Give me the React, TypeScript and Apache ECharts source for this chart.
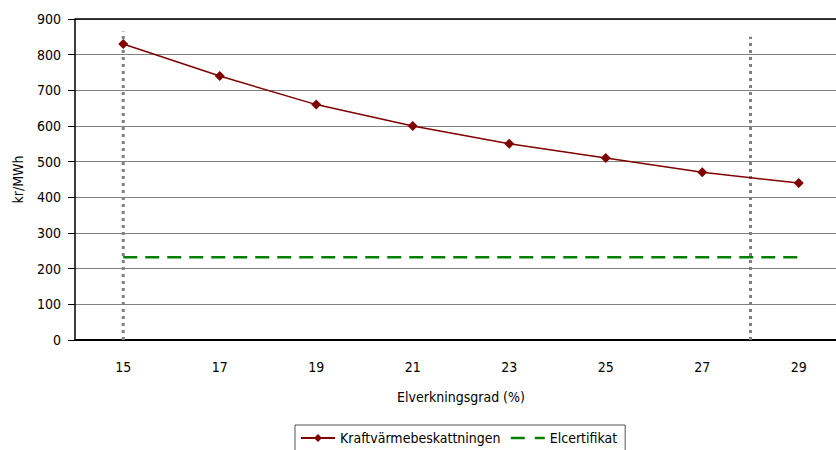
import React, { useEffect, useRef } from "react";
import * as echarts from "echarts";

// Electrical efficiency (%) on the category axis
const categories = ["15", "17", "19", "21", "23", "25", "27", "29"];
// kr/MWh
const kraftvarme = [830, 740, 660, 600, 550, 510, 470, 440];
const elcertifikat = [232, 232, 232, 232, 232, 232, 232, 232];
// Vertical reference markers: x position (efficiency %) and top value (kr/MWh)
const refX = [15, 28];
const refTop = [865, 850];

const FONT = '"DejaVu Sans Condensed", "Liberation Sans Narrow", sans-serif';

export default function App() {
  const ref = useRef<HTMLDivElement>(null);

  useEffect(() => {
    if (!ref.current) return;
    const chart = echarts.init(ref.current, null, { renderer: "svg" });
    const text = { fontFamily: FONT, fontSize: 14, color: "#000" };

    const refSeries = refX.map((x, i) => ({
      name: "ref" + i,
      type: "line",
      xAxisIndex: 1,
      yAxisIndex: 0,
      data: [
        [x, 0],
        [x, refTop[i]],
      ],
      symbol: "none",
      silent: true,
      lineStyle: { color: "#808080", width: 3, type: [3, 4] },
      z: 1,
    }));

    chart.setOption({
      animation: false,
      backgroundColor: "#fff",
      textStyle: { fontFamily: FONT },
      grid: {
        left: 75,
        top: 19,
        width: 772,
        bottom: 110,
        containLabel: false,
        outerBoundsMode: "none",
      },
      legend: {
        data: [
          { name: "Kraftvärmebeskattningen" },
          {
            name: "Elcertifikat",
            itemStyle: { color: "transparent", borderColor: "transparent", borderWidth: 0 },
            lineStyle: { color: "#008000", width: 2.5, type: [14, 10] },
          },
        ],
        left: 295,
        top: 425,
        padding: [6, 8, 12, 5],
        itemGap: 9,
        itemWidth: 34,
        itemHeight: 10,
        borderColor: "#555",
        borderWidth: 1,
        textStyle: { ...text },
      },
      xAxis: [
        {
          type: "category",
          data: categories,
          name: "Elverkningsgrad (%)",
          nameLocation: "middle",
          nameGap: 50,
          nameTextStyle: text,
          axisLine: { lineStyle: { color: "#000", width: 2 } },
          axisTick: { length: 6, lineStyle: { color: "#000" } },
          axisLabel: { ...text, margin: 20 },
          splitLine: { show: false },
        },
        {
          type: "value",
          min: 14,
          max: 30,
          show: false,
        },
      ],
      yAxis: {
        type: "value",
        min: 0,
        max: 900,
        interval: 100,
        name: "kr/MWh",
        nameLocation: "middle",
        nameGap: 50,
        nameTextStyle: text,
        axisLine: { show: true, lineStyle: { color: "#000", width: 1.5 } },
        axisTick: { show: true, length: 7, lineStyle: { color: "#000" } },
        axisLabel: { ...text, margin: 14 },
        splitLine: { lineStyle: { color: "#808080", width: 1 } },
      },
      series: [
        ...refSeries,
        {
          name: "Kraftvärmebeskattningen",
          type: "line",
          data: kraftvarme,
          symbol: "diamond",
          symbolSize: 10,
          itemStyle: { color: "#800000" },
          lineStyle: { color: "#800000", width: 1.5 },
          z: 3,
          markLine: {
            silent: true,
            symbol: "none",
            label: { show: false },
            lineStyle: { color: "#000", width: 1.5, type: "solid" },
            data: [{ yAxis: 900 }],
          },
        },
        {
          name: "Elcertifikat",
          type: "line",
          data: elcertifikat,
          symbol: "none",
          itemStyle: { color: "#008000" },
          lineStyle: { color: "#008000", width: 2.5, type: [14, 8] },
          z: 2,
        },
      ],
    });
    return () => chart.dispose();
  }, []);

  return (
    <div
      ref={ref}
      style={{ position: "fixed", left: 0, top: 0, width: 836, height: 450 }}
    />
  );
}
